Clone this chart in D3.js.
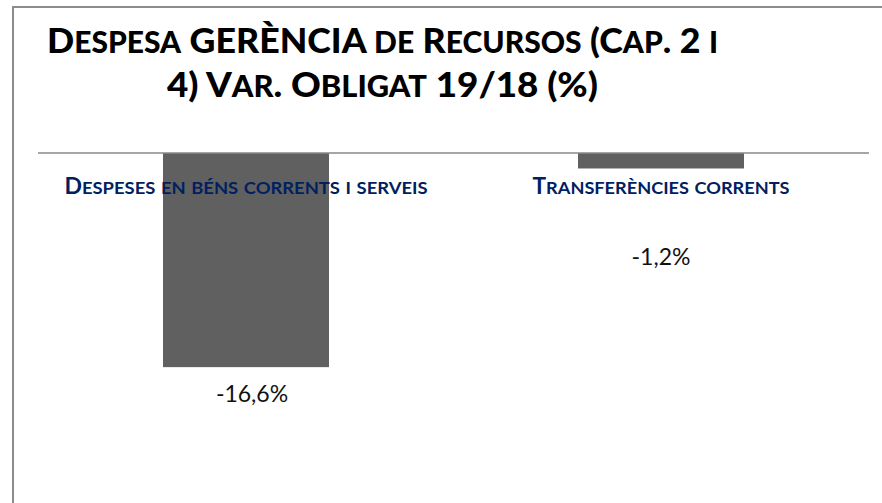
<!DOCTYPE html>
<meta charset="utf-8">
<style>
body { margin: 0; background: #fff; }
svg { display: block; }
.title { font-family: Lato, "Open Sans", sans-serif; font-weight: 900; fill: #000; }
.cat { font-family: Lato, "Open Sans", sans-serif; font-weight: bold; fill: #002060; }
.val { font-family: Lato, "Open Sans", sans-serif; fill: #111; }
</style>
<svg width="882" height="503"></svg>
<script src="https://cdn.jsdelivr.net/npm/d3@7"></script>
<script>

// data
var categories = ["Despeses en béns corrents i serveis", "Transferències corrents"];
var values = [-16.6, -1.2];
var valueLabels = ["-16,6%", "-1,2%"];
var titleLines = ["Despesa GERÈNCIA de Recursos (Cap. 2 i", "4) Var. Obligat 19/18 (%)"];

var svg = d3.select("svg");

// Excel-style small caps: lowercase runs become smaller capitals
function smallCaps(sel, size, ratio) {
    sel.each(function(d) {
        var t = d3.select(this);
        var runs = d.match(/[a-zà-ÿ]+|[^a-zà-ÿ]+/g);
        runs.forEach(function(r) {
            var lower = /[a-zà-ÿ]/.test(r[0]);
            t.append("tspan")
                .attr("font-size", lower ? size * ratio : size)
                .text(lower ? r.toUpperCase() : r);
        });
    });
}

// outer frame (runs off the right and bottom edges)
svg.append("rect")
    .attr("x", 13).attr("y", 7)
    .attr("width", 900).attr("height", 520)
    .attr("fill", "none")
    .attr("stroke", "#8c8c8c")
    .attr("stroke-width", 2);

var x = d3.scaleBand()
    .domain(categories)
    .range([38.5, 868.5])
    .paddingInner(0.6)
    .paddingOuter(0.3);

var y = d3.scaleLinear()
    .domain([0, -20])
    .range([153, 411]);

// title
var titleWidths = [671, 431];
svg.selectAll(".title")
    .data(titleLines)
    .enter().append("text")
    .attr("class", "title")
    .attr("x", 382.5)
    .attr("y", function(d, i) { return 53 + i * 44; })
    .attr("text-anchor", "middle")
    .attr("textLength", function(d, i) { return titleWidths[i]; })
    .attr("lengthAdjust", "spacingAndGlyphs")
    .call(smallCaps, 35, 0.84);

// bars
svg.selectAll(".bar")
    .data(values)
    .enter().append("rect")
    .attr("class", "bar")
    .attr("x", function(d, i) { return x(categories[i]); })
    .attr("width", x.bandwidth())
    .attr("y", function(d) { return y(0); })
    .attr("height", function(d) { return y(d) - y(0); })
    .attr("fill", "#606060");

// zero line
svg.append("line")
    .attr("x1", 38).attr("x2", 869)
    .attr("y1", y(0)).attr("y2", y(0))
    .attr("stroke", "#888")
    .attr("stroke-width", 1.5);

// category labels, drawn over the bars
var catWidths = [363, 257];
svg.selectAll(".cat")
    .data(categories)
    .enter().append("text")
    .attr("class", "cat")
    .attr("x", function(d) { return x(d) + x.bandwidth() / 2; })
    .attr("y", 194)
    .attr("text-anchor", "middle")
    .attr("textLength", function(d, i) { return catWidths[i]; })
    .attr("lengthAdjust", "spacingAndGlyphs")
    .call(smallCaps, 22, 0.8);

// value labels (moved by hand in the original)
var labelDy = [35, 97];
var labelDx = [6, 0];
svg.selectAll(".val")
    .data(values)
    .enter().append("text")
    .attr("class", "val")
    .attr("x", function(d, i) { return x(categories[i]) + x.bandwidth() / 2 + labelDx[i]; })
    .attr("y", function(d, i) { return y(d) + labelDy[i]; })
    .attr("text-anchor", "middle")
    .attr("font-size", 23)
    .text(function(d, i) { return valueLabels[i]; });

</script>
